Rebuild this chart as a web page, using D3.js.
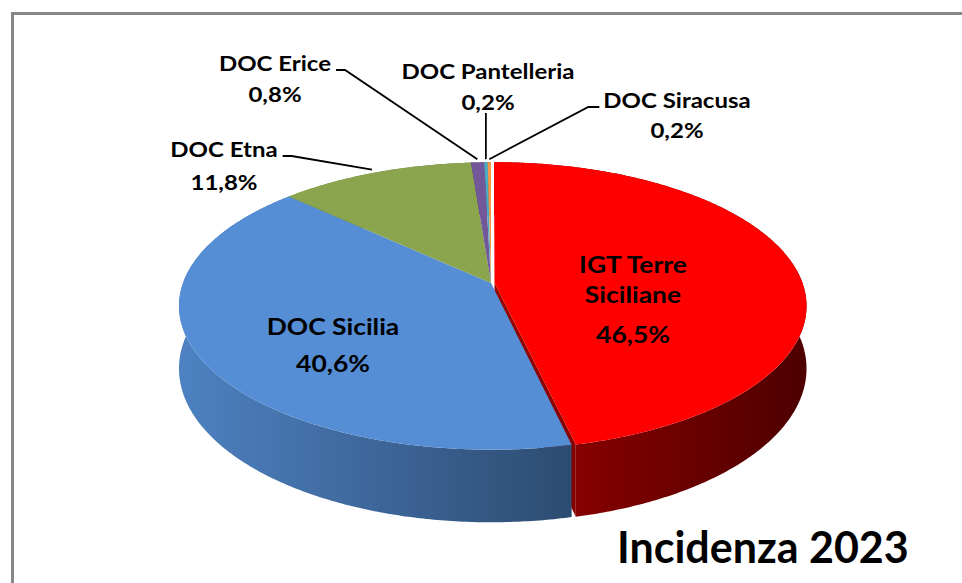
<!DOCTYPE html>
<html>
<head>
<meta charset="utf-8">
<script src="https://cdn.jsdelivr.net/npm/d3@7"></script>
<style>
body { margin: 0; background: #fff; }
svg { display: block; }
text { font-family: Lato, "Open Sans", sans-serif; font-weight: bold; fill: #000; }
</style>
</head>
<body>
<svg id="chart" width="962" height="583"></svg>
<script>
// --- data ---
var categories = ["IGT Terre Siciliane", "DOC Sicilia", "DOC Etna", "DOC Erice", "DOC Pantelleria", "DOC Siracusa"];
var values = [46.5, 40.6, 11.8, 0.8, 0.2, 0.2];
var colors = ["#ff0000", "#558ed5", "#8ba54f", "#72589b", "#4bacc6", "#f79646"];
var exploded = [true, false, false, false, false, false];
var chart_title = "Incidenza 2023";

// --- label layout (where excel put them) ---
var label_layout = [
    { lines: ["IGT Terre", "Siciliane"], x: 633, y: 273, dy: [0, 30, 70], size: 22 },
    { lines: ["DOC Sicilia"], x: 333, y: 335, dy: [0, 37], size: 22 },
    { x: 224, y: 157, dy: [0, 33], size: 20, stub: "right" },
    { x: 275, y: 71, dy: [0, 31], size: 20, stub: "right" },
    { x: 488, y: 79, dy: [0, 31], size: 20, stub: "below" },
    { x: 677, y: 108, dy: [0, 30], size: 20, stub: "left" }
];

var cx = 491, cy = 283;      // where the slices meet
var rx = 308, ry = 140;      // disc radius on screen
var persp = 0.16;            // front of the disc looks bigger than the back
var depth = 61;              // thickness of the pie
var explode_px = 3.5;
var text_stretch = 1.2;      // labels in the original are drawn wide

var fmt = d3.format(".1f");
var pct = function(v) { return fmt(v).replace(".", ",") + "%"; };

var svg = d3.select("#chart");
var defs = svg.append("defs");

// frame (only left and top edge are in the picture)
svg.append("path")
    .attr("d", "M12.5,600V13.5H975")
    .attr("fill", "none")
    .attr("stroke", "#878787")
    .attr("stroke-width", 3);

var project = function(u, v, h) {
    var s = 1 / (1 - persp * v);
    return [cx + rx * u * s, cy + ry * v * s + depth * h * s];
};

var rim = function(a, r, off, h) {
    return project(off[0] + r * Math.sin(a), off[1] - r * Math.cos(a), h);
};

var arc_pts = function(a0, a1, off, h) {
    var n = Math.max(2, Math.ceil(Math.abs(a1 - a0) / 0.01));
    var pts = [];
    for (var i = 0; i <= n; i++) {
        pts.push(rim(a0 + (a1 - a0) * i / n, 1, off, h));
    }
    return pts;
};

var line = d3.line();

var slices = d3.pie().sort(null).value(function(d) { return d; })(values);

slices.forEach(function(s, i) {
    var mid = (s.startAngle + s.endAngle) / 2;
    var e = exploded[i] ? explode_px / rx : 0;
    s.off = [e * Math.sin(mid), -e * Math.cos(mid)];
    s.mid = mid;
    s.color = colors[i];
    s.name = categories[i];

    var c = d3.color(colors[i]);
    var g = defs.append("linearGradient")
        .attr("id", "side" + i)
        .attr("gradientUnits", "userSpaceOnUse")
        .attr("x1", cx - rx).attr("x2", cx + rx)
        .attr("y1", 0).attr("y2", 0);
    g.append("stop").attr("offset", "0%").attr("stop-color", c.darker(0.28).formatHex());
    g.append("stop").attr("offset", "100%").attr("stop-color", c.darker(3.3).formatHex());
});

var walls = svg.append("g").classed("walls", true);

// radial cut faces, only the ones turned to the viewer
slices.forEach(function(s, i) {
    if (Math.sin(s.endAngle) > 0.01 && exploded[i]) {
        var p = [project(s.off[0], s.off[1], 0),
                 rim(s.endAngle, 1, s.off, 0),
                 rim(s.endAngle, 1, s.off, 1),
                 project(s.off[0], s.off[1], 1)];
        walls.append("path")
            .attr("d", line(p) + "Z")
            .attr("fill", "url(#side" + i + ")");
    }
    if (-Math.sin(s.startAngle) > 0.01 && exploded[i]) {
        var q = [project(s.off[0], s.off[1], 0),
                 rim(s.startAngle, 1, s.off, 0),
                 rim(s.startAngle, 1, s.off, 1),
                 project(s.off[0], s.off[1], 1)];
        walls.append("path")
            .attr("d", line(q) + "Z")
            .attr("fill", "url(#side" + i + ")");
    }
});

// outer curved walls
slices.forEach(function(s, i) {
    var top = arc_pts(s.startAngle, s.endAngle, s.off, 0);
    var bot = arc_pts(s.endAngle, s.startAngle, s.off, 1);
    walls.append("path")
        .attr("d", line(top.concat(bot)) + "Z")
        .attr("fill", "url(#side" + i + ")");
});

// top faces
var tops = svg.append("g").classed("tops", true);
slices.forEach(function(s, i) {
    var p = [project(s.off[0], s.off[1], 0)]
        .concat(arc_pts(s.startAngle, s.endAngle, s.off, 0));
    tops.append("path")
        .attr("d", line(p) + "Z")
        .attr("fill", s.color);
});

// labels
var labels = svg.append("g").classed("labels", true);
var leaders = svg.append("g").classed("leaders", true);

slices.forEach(function(s, i) {
    var L = label_layout[i];
    var lines = (L.lines || [s.name]).concat([pct(values[i])]);

    var t = labels.append("text")
        .attr("text-anchor", "middle")
        .style("font-size", L.size + "px");

    var widths = [];
    lines.forEach(function(str, j) {
        var ts = t.append("tspan")
            .attr("x", L.x)
            .attr("y", L.y + L.dy[j])
            .text(str);
        var w = ts.node().getComputedTextLength() * text_stretch;
        ts.attr("textLength", w).attr("lengthAdjust", "spacingAndGlyphs");
        widths.push(w);
    });

    if (!L.stub) return;

    var anchor = rim(s.mid, 1.03, s.off, 0);
    var pts;
    if (L.stub == "right") {
        var x0 = L.x + widths[0] / 2 + 5;
        pts = [[x0, L.y - 1], [x0 + 9, L.y - 1], anchor];
    }
    else if (L.stub == "left") {
        var x1 = L.x - widths[0] / 2 - 4;
        pts = [[x1, L.y - 1], [x1 - 11, L.y - 1], anchor];
    }
    else {
        pts = [[anchor[0], L.y + L.dy[1] + 3], anchor];
    }
    leaders.append("path")
        .attr("d", line(pts))
        .attr("fill", "none")
        .attr("stroke", "#000")
        .attr("stroke-width", 1.8);
});

svg.append("text")
    .attr("x", 617)
    .attr("y", 563)
    .style("font-size", "43px")
    .text(chart_title);
</script>
</body>
</html>
